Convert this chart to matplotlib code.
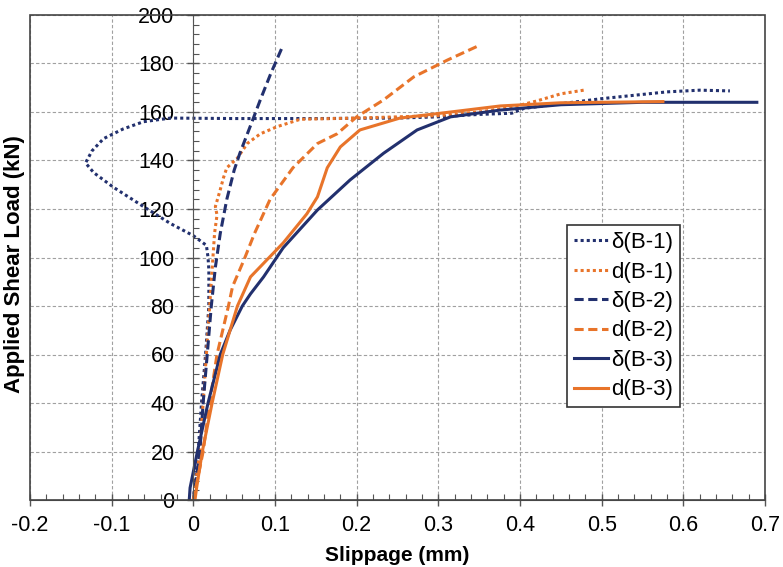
import matplotlib.pyplot as plt
from matplotlib.patches import Rectangle
from matplotlib.ticker import MultipleLocator

plt.rcParams['font.family'] = ['Liberation Sans', 'DejaVu Sans']

navy = '#22306e'
orange = '#e8742a'

# slippage (mm) / load (kN)
d1_delta_x = [0.0, 0.003, 0.006, 0.010, 0.015, 0.019, 0.019, 0.018, 0.016, 0.008, 0.0, -0.028,
              -0.061, -0.098, -0.122, -0.132, -0.124, -0.110, -0.086, -0.061, -0.028, 0.05,
              0.15, 0.25, 0.30, 0.35, 0.39, 0.405, 0.44, 0.50, 0.58, 0.62, 0.657]
d1_delta_y = [0, 10, 20, 40, 60, 80, 95, 100, 105, 107, 109, 114, 121, 129, 135, 139, 144,
              149, 153, 156, 157.5, 157.3, 157.3, 157.5, 158, 159, 159.5, 161.5, 163, 165.5,
              168.3, 169, 168.7]

d1_d_x = [0.0, 0.004, 0.008, 0.012, 0.016, 0.020, 0.024, 0.026, 0.029, 0.027, 0.033, 0.037,
          0.041, 0.054, 0.066, 0.082, 0.103, 0.131, 0.2, 0.3, 0.35, 0.39, 0.42, 0.45, 0.478]
d1_d_y = [0, 10, 20, 40, 60, 80, 100, 110, 117.5, 121, 128, 133, 137, 141, 147, 151, 154,
          157, 157.5, 158.5, 160, 162, 164.5, 167.5, 169]

d2_delta_x = [0.0, 0.004, 0.008, 0.012, 0.017, 0.022, 0.027, 0.033, 0.041, 0.050, 0.057,
              0.073, 0.082, 0.095, 0.110]
d2_delta_y = [0, 10, 20, 40, 60, 80, 96, 110, 124, 136, 143, 157, 165, 176, 187.6]

d2_d_x = [0.0, 0.006, 0.012, 0.020, 0.029, 0.043, 0.048, 0.062, 0.075, 0.094, 0.122, 0.152,
          0.176, 0.2, 0.233, 0.27, 0.311, 0.351]
d2_d_y = [0, 10, 20, 40, 60, 80, 88, 99, 110, 124, 137, 147, 151, 158, 165, 174.5, 181.4, 187.6]

d3_delta_x = [-0.005, -0.004, 0.005, 0.018, 0.033, 0.045, 0.06, 0.07, 0.086, 0.110, 0.152,
              0.192, 0.233, 0.274, 0.315, 0.376, 0.45, 0.55, 0.69]
d3_delta_y = [0, 5, 20, 40, 60, 70, 80, 85, 92, 104, 119.6, 132, 143, 152.6, 158, 160.8,
              163, 164, 164]

d3_d_x = [0.002, 0.004, 0.011, 0.023, 0.036, 0.054, 0.07, 0.11, 0.139, 0.152, 0.164, 0.18,
          0.204, 0.253, 0.315, 0.376, 0.45, 0.575]
d3_d_y = [0, 5, 20, 40, 60, 80, 92, 106, 118, 125, 137, 145.6, 152.6, 157.5, 160, 162.5,
          163.8, 164.3]

fig = plt.figure(figsize=(7.83, 5.67), dpi=100)
ax = fig.add_axes([30 / 783, 67 / 567, 735 / 783, 485 / 567])

dot = (0, (1, 1))
dash = (0, (3, 1.5))
ax.plot(d1_delta_x, d1_delta_y, color=navy, lw=2.2, ls=dot, label='δ(B-1)')
ax.plot(d1_d_x, d1_d_y, color=orange, lw=2.2, ls=dot, label='d(B-1)')
ax.plot(d2_delta_x, d2_delta_y, color=navy, lw=2.2, ls=dash, label='δ(B-2)')
ax.plot(d2_d_x, d2_d_y, color=orange, lw=2.2, ls=dash, label='d(B-2)')
ax.plot(d3_delta_x, d3_delta_y, color=navy, lw=2.2, label='δ(B-3)')
ax.plot(d3_d_x, d3_d_y, color=orange, lw=2.2, label='d(B-3)')

ax.set_xlim(-0.2, 0.7)
ax.set_ylim(0, 200)
ax.xaxis.set_major_locator(MultipleLocator(0.1))
ax.xaxis.set_minor_locator(MultipleLocator(0.02))
ax.yaxis.set_major_locator(MultipleLocator(20))
ax.yaxis.set_minor_locator(MultipleLocator(4))
ax.xaxis.set_major_formatter(lambda v, p: f'{v:.1f}' if abs(v) > 1e-9 else '0')

ax.grid(True, which='major', color='#a0a0a0', ls=(0, (3, 2)), lw=0.8)

# y axis sits at x = 0, outer frame drawn separately
ax.spines['left'].set_position(('data', 0))
ax.spines['left'].set_color('#555555')
ax.spines['top'].set_visible(False)
ax.spines['right'].set_visible(False)
ax.spines['bottom'].set_color('#555555')
ax.add_patch(Rectangle((0, 0), 1, 1, transform=ax.transAxes, fill=False,
                       ec='#444444', lw=1.2, clip_on=False, zorder=5))

ax.tick_params(which='major', direction='inout', length=9, width=1, color='#555555',
               labelsize=15.5, pad=6)
ax.tick_params(axis='y', which='major', pad=9)
ax.tick_params(which='minor', direction='in', length=4, width=0.8, color='#555555')

ax.set_xlabel('Slippage (mm)', fontsize=15, fontweight='bold')
ax.set_ylabel('Applied Shear Load (kN)', fontsize=16, fontweight='bold')
ax.xaxis.set_label_coords(0.5, -0.095)
ax.yaxis.set_label_coords(-0.007, 0.487)

leg = ax.legend(loc='upper left', bbox_to_anchor=(0.731, 0.567), fontsize=16,
                handlelength=1.5, handletextpad=0.15, labelspacing=0.38,
                borderpad=0.32, borderaxespad=0, fancybox=False, framealpha=1)
leg.get_frame().set_edgecolor('#333333')
leg.get_frame().set_linewidth(1.2)

fig.savefig('out.png', dpi=100)
